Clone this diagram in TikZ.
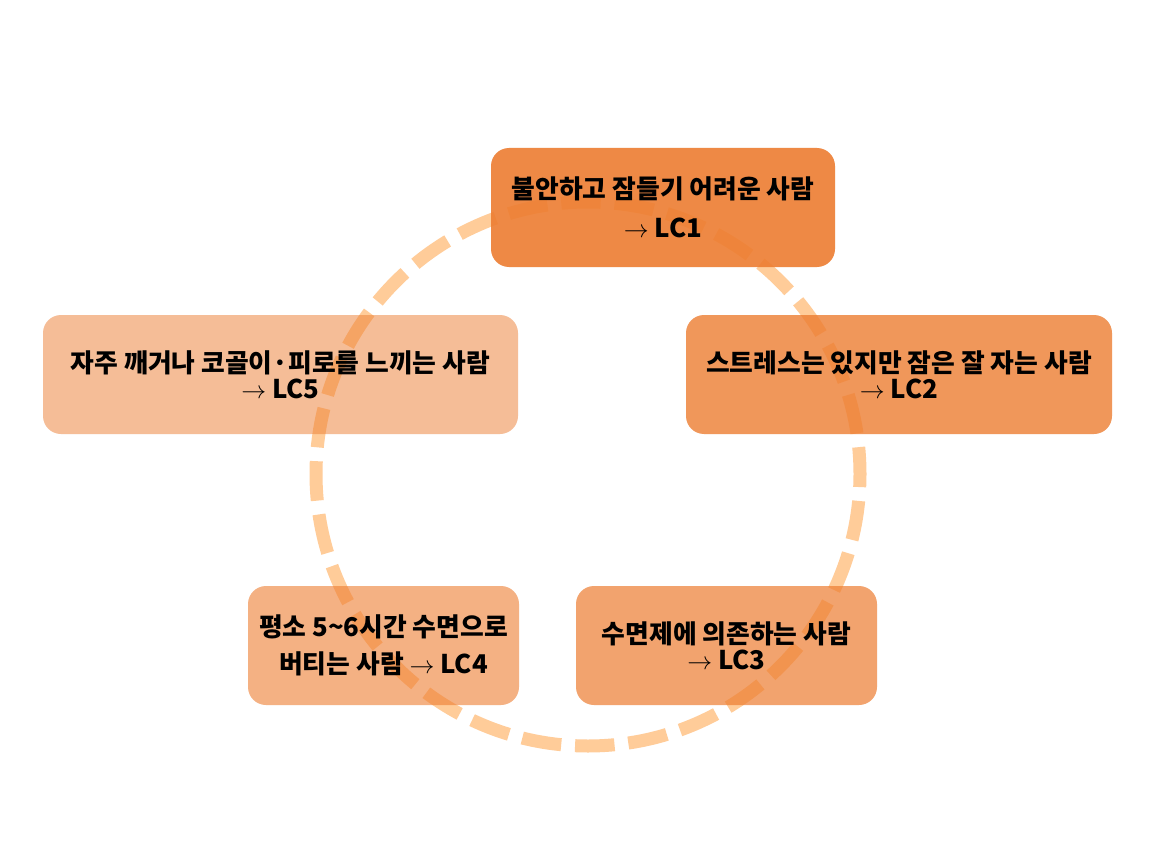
\documentclass[tikz,border=0pt]{standalone}
\usepackage{fontspec}
\setmainfont{Noto Sans CJK KR}
\begin{document}
\begin{tikzpicture}[x=1pt,y=-1pt]
\definecolor{boxorange}{HTML}{ED7D31}
\definecolor{ringpeach}{HTML}{FFCC99}
\tikzset{
  lcbox/.style={rectangle, rounded corners=18pt, fill=boxorange, text=black,
    inner sep=0pt, align=center, text opacity=1,
    font=\bfseries\fontsize{25.8}{26}\selectfont},
  ring/.style={draw=ringpeach, line width=13pt, dash pattern=on 39.5pt off 13.9pt, dash phase=12.6pt}
}
\useasboundingbox (0,0) rectangle (1176,848);
\fill[white] (0,0) rectangle (1176,848);
\draw[ring] (588,474) circle[radius=272pt];
\node[lcbox, fill opacity=0.9, minimum width=344pt, minimum height=119pt,
  font=\bfseries\fontsize{25.8}{39}\selectfont] (lc1) at (663,207.5)
  {불안하고 잠들기 어려운 사람\\$\rightarrow$ LC1};
\node[lcbox, fill opacity=0.8, minimum width=426pt, minimum height=119pt] (lc2) at (899,374.5)
  {스트레스는 있지만 잠은 잘 자는 사람\\$\rightarrow$ LC2};
\node[lcbox, fill opacity=0.7, minimum width=301pt, minimum height=119pt] (lc3) at (726.5,645.5)
  {수면제에 의존하는 사람\\$\rightarrow$ LC3};
\node[lcbox, fill opacity=0.6, minimum width=271pt, minimum height=119pt,
  font=\bfseries\fontsize{25.8}{37}\selectfont] (lc4) at (383.5,645.5)
  {평소 5\textasciitilde6시간 수면으로\\버티는 사람 $\rightarrow$ LC4};
\node[lcbox, fill opacity=0.5, minimum width=475pt, minimum height=119pt] (lc5) at (280.5,374.5)
  {자주 깨거나 코골이·피로를 느끼는 사람\\$\rightarrow$ LC5};
\end{tikzpicture}
\end{document}
